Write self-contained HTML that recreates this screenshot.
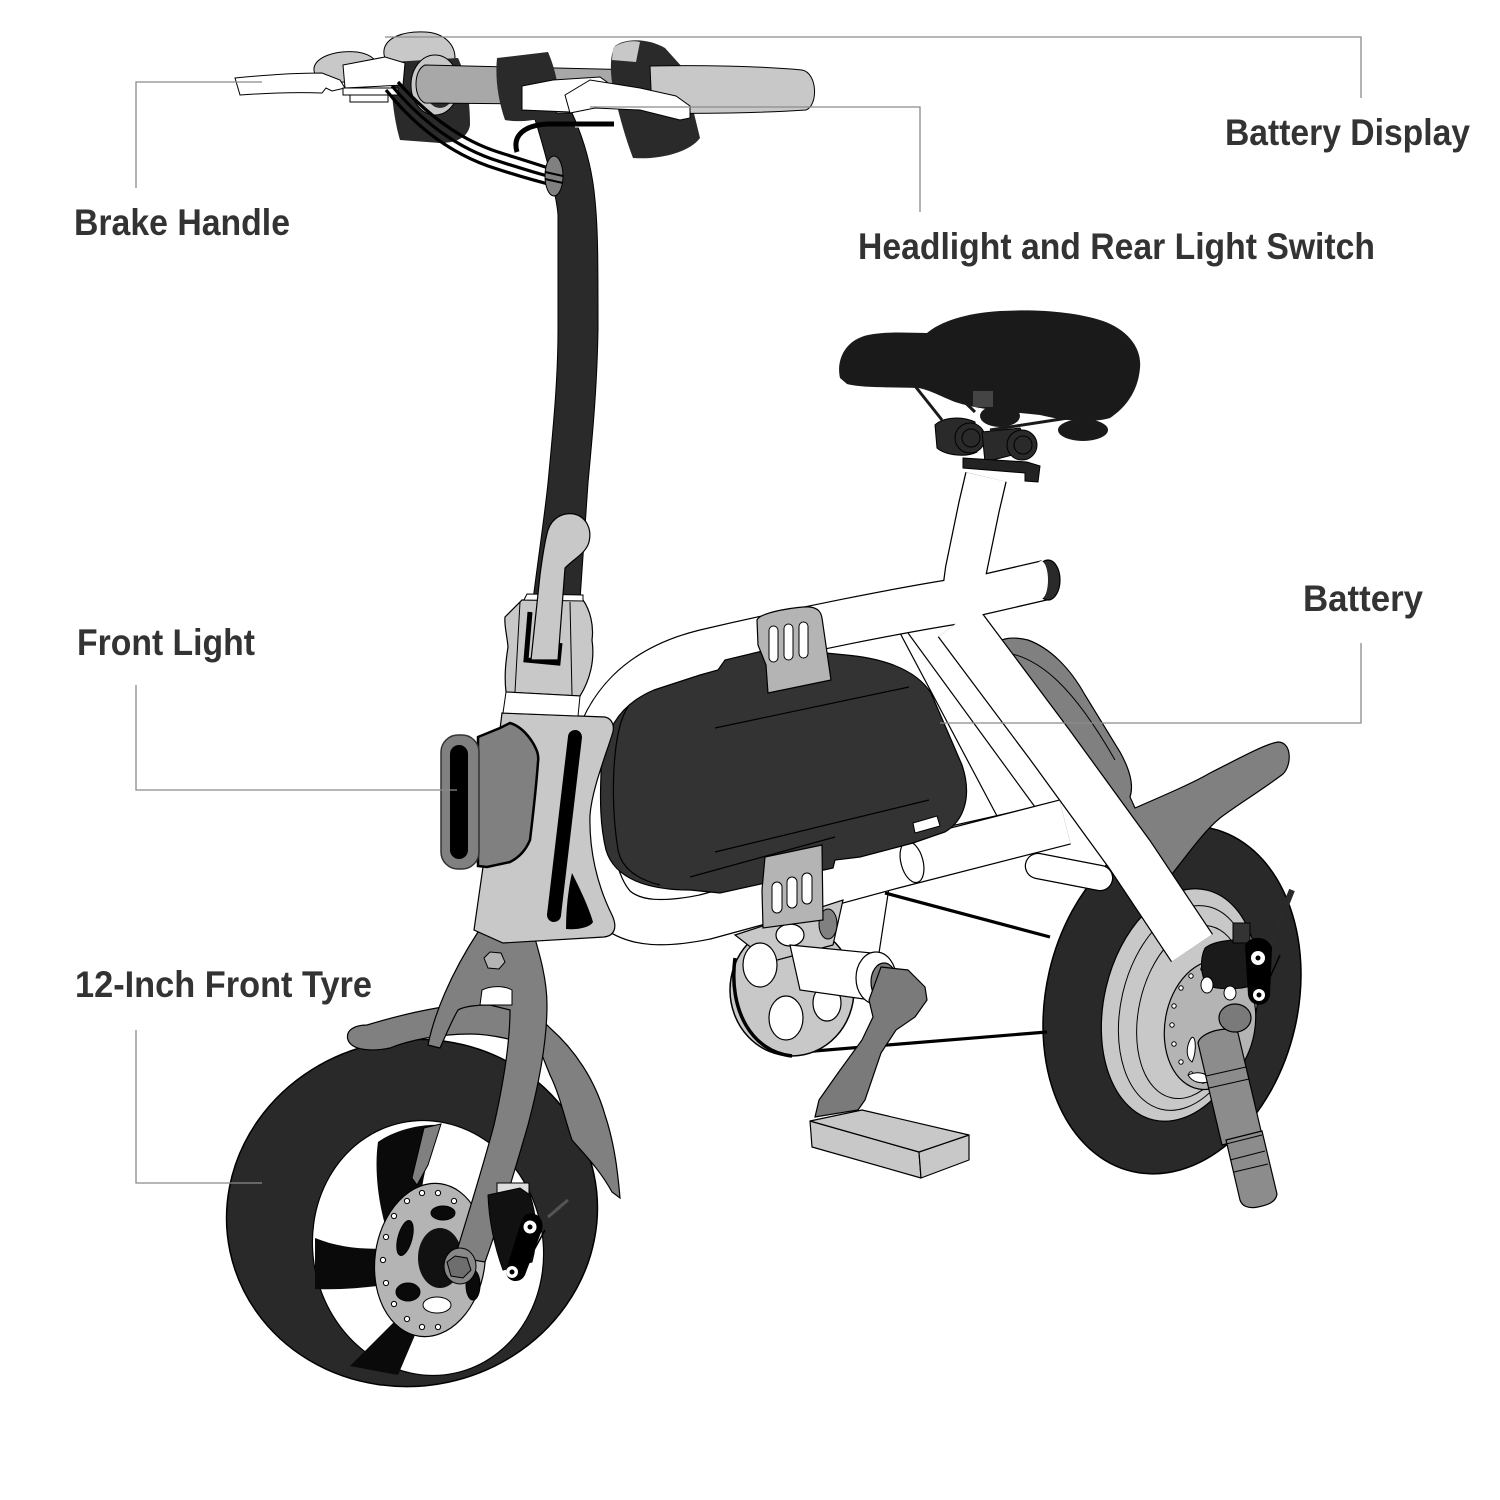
<!DOCTYPE html>
<html>
<head>
<meta charset="utf-8">
<style>
html,body{margin:0;padding:0;background:#fff;}
svg{display:block;}
text{font-family:"Liberation Sans",Arial,sans-serif;font-weight:bold;fill:#333;font-size:37px;}
</style>
</head>
<body>
<svg width="1500" height="1500" viewBox="0 0 1500 1500" xmlns="http://www.w3.org/2000/svg">
<rect width="1500" height="1500" fill="#fff"/>

<!-- ============ REAR WHEEL ============ -->
<ellipse cx="1172" cy="1000" rx="126" ry="176" transform="rotate(13 1172 1000)" fill="#292929" stroke="#000" stroke-width="1.5"/>
<ellipse cx="1180" cy="1005" rx="76" ry="118" transform="rotate(13 1180 1005)" fill="#c8c8c8" stroke="#000" stroke-width="1.2"/>
<ellipse cx="1185" cy="1008" rx="64" ry="104" transform="rotate(13 1185 1008)" fill="none" stroke="#000" stroke-width="1"/>
<ellipse cx="1191" cy="1012" rx="52" ry="88" transform="rotate(13 1191 1012)" fill="none" stroke="#000" stroke-width="1"/>
<!-- rear disc -->
<ellipse cx="1210" cy="1025" rx="45" ry="65" transform="rotate(10 1210 1025)" fill="#b4b4b4" stroke="#000" stroke-width="1.2"/>
<g fill="#fff" stroke="#000" stroke-width="1">
<circle cx="1203" cy="1081" r="2.2"/><circle cx="1191" cy="1074" r="2.2"/><circle cx="1181" cy="1062" r="2.2"/>
<circle cx="1174" cy="1044" r="2.2"/><circle cx="1172" cy="1025" r="2.2"/><circle cx="1174" cy="1006" r="2.2"/>
<circle cx="1181" cy="988" r="2.2"/><circle cx="1191" cy="976" r="2.2"/><circle cx="1203" cy="969" r="2.2"/>
<circle cx="1217" cy="1081" r="2.2"/><circle cx="1229" cy="1074" r="2.2"/>
</g>
<path d="M1190,1040 C1195,1030 1198,1050 1192,1062 C1186,1058 1186,1048 1190,1040 Z" fill="#fff" stroke="#000" stroke-width="1"/>
<path d="M1188,1075 C1200,1070 1210,1074 1208,1082 C1200,1084 1192,1082 1188,1075 Z" fill="#fff" stroke="#000" stroke-width="1"/>

<!-- rear fender -->
<path d="M990,648 C998,638 1012,636 1028,640 C1050,648 1070,668 1085,695 L1120,752 C1130,770 1134,785 1130,797 L1135,808 C1165,795 1195,782 1210,773 C1240,758 1265,744 1278,742 C1292,742 1292,765 1283,774 C1262,790 1237,805 1220,818 C1203,832 1185,858 1172,874 L1158,880 L1110,830 L1060,760 Z" fill="#808080" stroke="#000" stroke-width="1.2"/>
<path d="M1000,652 C1040,655 1075,690 1115,760" fill="none" stroke="#000" stroke-width="1"/>

<!-- compartment lines behind battery -->
<g fill="none" stroke="#000" stroke-width="1.2">
<path d="M820,646 L900,633 L997,816"/>
<path d="M908,633 L1035,807"/>
<path d="M920,833 L1035,807"/>
<path d="M892,868 L879,953"/>
</g>

<!-- frame tubes: outline pass -->
<g fill="none" stroke="#000" stroke-linejoin="round">
<path d="M965,600 C900,610 800,630 705,652 C640,668 605,705 593,760 C583,815 588,880 615,908 C635,925 665,925 705,917 L893,866 L1065,822" stroke-width="46.5"/>
<path d="M986,477 L979,507 L966,570 L960,615" stroke-width="42.5"/>
<path d="M968,598 L1046,580" stroke-width="40.5"/>
<path d="M958,622 L1050,745 L1130,855 L1192,948" stroke-width="50.5"/>
<path d="M1038,866 L1100,878" stroke-width="26.5" stroke-linecap="round"/>
</g>
<!-- frame tubes: white pass -->
<g fill="none" stroke="#fff" stroke-linejoin="round">
<path d="M965,600 C900,610 800,630 705,652 C640,668 605,705 593,760 C583,815 588,880 615,908 C635,925 665,925 705,917 L893,866 L1065,822" stroke-width="44"/>
<path d="M986,477 L979,507 L966,570 L960,615" stroke-width="40"/>
<path d="M968,598 L1046,580" stroke-width="38"/>
<path d="M958,622 L1050,745 L1130,855 L1192,948" stroke-width="48"/>
<path d="M1038,866 L1100,878" stroke-width="24" stroke-linecap="round"/>
</g>
<!-- rear cap -->
<ellipse cx="1048" cy="580" rx="12" ry="20" fill="#2a2a2a" stroke="#000" stroke-width="1.2"/>
<ellipse cx="1041" cy="580" rx="7" ry="19" fill="#fff"/>
<!-- joint on lower tube -->
<ellipse cx="912" cy="862" rx="11" ry="21" transform="rotate(-15 912 862)" fill="#fff" stroke="#000" stroke-width="1.2"/>

<!-- chain -->
<path d="M885,893 L1050,937" stroke="#000" stroke-width="3.2" fill="none"/>
<path d="M790,1053 L1047,1032" stroke="#000" stroke-width="3.2" fill="none"/>

<!-- chainwheel -->
<ellipse cx="792" cy="990" rx="62" ry="66" fill="#c8c8c8" stroke="#000" stroke-width="1.5"/>
<path d="M735,958 C728,1010 752,1052 792,1056" fill="none" stroke="#000" stroke-width="3.5"/>
<polygon points="735,935 843,900 833,945 770,962" fill="#c8c8c8" stroke="#000" stroke-width="1.2"/>
<ellipse cx="828" cy="924" rx="9" ry="15" fill="#808080" stroke="#000" stroke-width="1"/>
<g fill="#fff" stroke="#000" stroke-width="1.2">
<ellipse cx="760" cy="965" rx="17" ry="22"/>
<ellipse cx="786" cy="1018" rx="17" ry="22"/>
<ellipse cx="827" cy="1003" rx="14" ry="18"/>
<ellipse cx="790" cy="935" rx="14" ry="11"/>
</g>
<!-- BB -->
<path d="M790,945 L872,953 L885,1002 L800,990 Z" fill="#fff" stroke="#000" stroke-width="1.2"/>
<ellipse cx="876" cy="978" rx="20" ry="26" fill="#fff" stroke="#000" stroke-width="1.2"/>
<ellipse cx="884" cy="982" rx="13" ry="19" fill="#7a7a7a" stroke="#000" stroke-width="1.2"/>
<!-- crank -->
<polygon points="881,967 908,970 925,987 927,1000 915,1017 896,1030 881,1053 865,1100 858,1110 815,1117 819,1100 838,1073 862,1040 873,1017 869,1000" fill="#7a7a7a" stroke="#000" stroke-width="1.2"/>
<!-- pedal -->
<g fill="#c8c8c8" stroke="#000" stroke-width="1.2" stroke-linejoin="round">
<polygon points="810,1121 919,1152 921,1178 812,1147"/>
<polygon points="919,1152 969,1135 969,1160 921,1178"/>
<polygon points="810,1121 862,1110 969,1135 919,1152"/>
</g>

<!-- battery -->
<path d="M601,775 C601,735 618,705 654,690 L700,675 L718,670 L725,660 L775,648 L846,655 C880,658 915,668 931,693 L962,765 C972,795 965,820 945,832 L913,843 L860,857 L835,860 L833,868 L720,893 L690,890 C650,890 615,880 606,850 C600,825 600,800 601,775 Z" fill="#333" stroke="#000" stroke-width="1.2"/>
<g fill="none" stroke="#000" stroke-width="1.2">
<path d="M715,728 L909,687"/>
<path d="M715,852 L929,800"/>
<path d="M690,877 L835,837"/>
<path d="M628,707 C612,730 610,800 618,850 C622,870 640,880 660,885"/>
</g>
<!-- straps -->
<path d="M757,620 C760,612 800,606 810,607 C818,608 821,612 822,618 L831,680 L768,693 L766,665 L758,645 Z" fill="#b4b4b4" stroke="#000" stroke-width="1.2"/>
<g fill="#fff" stroke="#000" stroke-width="1">
<rect x="769" y="626" width="9" height="36" rx="4.5"/>
<rect x="784" y="624" width="9" height="36" rx="4.5"/>
<rect x="799" y="622" width="9" height="36" rx="4.5"/>
</g>
<path d="M765,857 L822,845 L823,920 L763,928 L762,890 Z" fill="#b4b4b4" stroke="#000" stroke-width="1.2"/>
<g fill="#fff" stroke="#000" stroke-width="1">
<rect x="772" y="882" width="10" height="31" rx="5"/>
<rect x="787" y="877" width="10" height="31" rx="5"/>
<rect x="802" y="873" width="10" height="31" rx="5"/>
</g>
<!-- small connector on battery -->
<path d="M913,823 L937,816 L940,826 L915,833 Z" fill="#fff" stroke="#000" stroke-width="1"/>

<!-- rear caliper -->
<path d="M1205,948 C1215,940 1240,938 1252,942 L1255,985 C1240,990 1215,990 1207,985 C1200,975 1200,958 1205,948 Z" fill="#1a1a1a" stroke="#000"/>
<rect x="1233" y="923" width="17" height="20" fill="#333" stroke="#000"/>
<path d="M1268,950 L1292,890" stroke="#2a2a2a" stroke-width="6" fill="none"/>
<path d="M1262,995 L1280,955" stroke="#000" stroke-width="1.5" fill="none"/>
<path d="M1245,945 C1250,935 1268,935 1272,948 L1270,995 C1268,1008 1250,1008 1248,995 Z" fill="#000"/>
<circle cx="1258" cy="958" r="7" fill="#fff"/><circle cx="1258" cy="958" r="2.5" fill="#000"/>
<circle cx="1259" cy="995" r="6" fill="#fff"/><circle cx="1259" cy="995" r="2.5" fill="#000"/>
<ellipse cx="1207" cy="985" rx="6" ry="8" fill="#fff" stroke="#000"/>
<ellipse cx="1230" cy="993" rx="6" ry="7" fill="#fff" stroke="#000"/>
<!-- kickstand -->
<path d="M1198,1043 C1200,1032 1230,1024 1238,1033 L1262,1135 L1222,1145 Z" fill="#8c8c8c" stroke="#000" stroke-width="1.2"/>
<path d="M1226,1140 L1262,1131 L1277,1194 C1276,1202 1268,1205 1258,1207 C1248,1209 1242,1206 1240,1200 Z" fill="#8c8c8c" stroke="#000" stroke-width="1.2"/>
<g fill="none" stroke="#000" stroke-width="1">
<path d="M1206,1076 L1246,1067"/><path d="M1209,1088 L1249,1079"/>
<path d="M1222,1145 L1262,1135"/><path d="M1230,1160 L1265,1151"/><path d="M1234,1172 L1268,1164"/>
</g>
<ellipse cx="1235" cy="1018" rx="16" ry="14" fill="#7a7a7a" stroke="#000" stroke-width="1.2"/>

<!-- seat clamp -->
<path d="M935,425 C942,418 960,415 975,422 L977,452 C965,458 945,455 937,448 Z" fill="#2a2a2a" stroke="#000"/>
<circle cx="970" cy="438" r="15" fill="#2a2a2a" stroke="#000"/>
<circle cx="971" cy="438" r="9" fill="none" stroke="#000"/>
<path d="M982,432 L1020,428 L1032,450 L985,462 Z" fill="#2a2a2a" stroke="#000"/>
<circle cx="1022" cy="445" r="15" fill="#2a2a2a" stroke="#000"/>
<circle cx="1023" cy="445" r="9" fill="none" stroke="#000"/>
<polygon points="963,458 1027,462 1040,466 1038,482 1025,481 1025,473 963,468" fill="#222" stroke="#000"/>
<!-- saddle rails -->
<g stroke="#1a1a1a" stroke-width="3" fill="none">
<path d="M915,386 L942,420"/><path d="M948,386 L975,412"/><path d="M990,430 L1068,418"/>
</g>
<!-- saddle -->
<path d="M840,378 C836,360 845,340 868,335 C890,331 910,333 927,333 C940,322 965,313 1000,311 C1040,309 1075,312 1103,321 C1128,330 1142,348 1140,368 C1138,392 1125,408 1110,418 C1090,424 1060,420 1040,415 C1010,412 980,410 955,402 C940,396 930,390 918,388 C890,387 862,388 847,384 Z" fill="#1a1a1a"/>
<ellipse cx="1083" cy="430" rx="25" ry="11" fill="#1a1a1a"/>
<ellipse cx="1000" cy="416" rx="20" ry="11" fill="#1a1a1a"/>
<rect x="973" y="391" width="20" height="16" fill="#444"/>

<!-- ============ FRONT WHEEL ============ -->
<ellipse cx="412" cy="1213" rx="186" ry="173" transform="rotate(-12 412 1213)" fill="#292929" stroke="#000" stroke-width="1.5"/>
<ellipse cx="428" cy="1248" rx="115" ry="128" transform="rotate(-12 428 1248)" fill="#fff" stroke="#000" stroke-width="1.2"/>
<!-- spokes -->
<path d="M378,1142 C395,1130 420,1124 440,1125 L432,1150 C420,1180 418,1210 425,1240 L392,1246 C378,1210 374,1170 378,1142 Z" fill="#0a0a0a"/>
<path d="M315,1238 C340,1248 365,1250 392,1248 L392,1284 C365,1288 340,1290 315,1289 Z" fill="#0a0a0a"/>
<path d="M350,1366 L400,1316 L418,1328 L398,1375 Z" fill="#0a0a0a"/>
<polygon points="424,1128 441,1124 428,1165 417,1185 412,1178" fill="#808080" stroke="#000" stroke-width="1"/>
<!-- disc -->
<ellipse cx="430" cy="1260" rx="55" ry="77" transform="rotate(8 430 1260)" fill="#b4b4b4" stroke="#000" stroke-width="1.2"/>
<g fill="#fff" stroke="#000" stroke-width="1">
<circle cx="422" cy="1327" r="2.6"/><circle cx="407" cy="1319" r="2.6"/><circle cx="394" cy="1304" r="2.6"/>
<circle cx="386" cy="1283" r="2.6"/><circle cx="383" cy="1260" r="2.6"/><circle cx="386" cy="1237" r="2.6"/>
<circle cx="394" cy="1216" r="2.6"/><circle cx="407" cy="1201" r="2.6"/><circle cx="422" cy="1193" r="2.6"/>
<circle cx="438" cy="1193" r="2.6"/><circle cx="454" cy="1201" r="2.6"/><circle cx="438" cy="1327" r="2.6"/>
</g>
<g fill="#0a0a0a" stroke="#000">
<ellipse cx="405" cy="1238" rx="7" ry="18" transform="rotate(15 405 1238)"/>
<ellipse cx="408" cy="1292" rx="12" ry="9"/>
<ellipse cx="443" cy="1213" rx="12" ry="7"/>
<ellipse cx="473" cy="1285" rx="7" ry="15"/>
</g>
<ellipse cx="437" cy="1305" rx="14" ry="8" fill="#fff" stroke="#000"/>
<ellipse cx="440" cy="1258" rx="22" ry="30" fill="#111"/>

<!-- front fender -->
<path d="M348,1040 C345,1030 355,1025 367,1025 C400,1015 440,1005 480,1003 C510,1003 535,1012 550,1028 C575,1050 595,1080 605,1115 C615,1145 618,1175 620,1198 L612,1192 C600,1170 585,1155 572,1140 C565,1120 560,1095 550,1075 L540,1050 C520,1040 490,1034 470,1034 C440,1034 410,1040 390,1048 C370,1052 352,1050 348,1040 Z" fill="#808080" stroke="#000" stroke-width="1.2"/>

<!-- fork -->
<path d="M478,932 L533,932 C540,955 547,980 547,1005 C547,1040 540,1080 528,1125 C515,1170 500,1220 485,1262 L455,1257 C468,1215 482,1170 494,1125 C503,1085 510,1045 510,1010 L490,1005 C478,1005 465,1006 458,1010 C452,1020 446,1035 440,1048 L428,1045 C434,1015 450,975 478,932 Z" fill="#808080" stroke="#000" stroke-width="1.2"/>
<path d="M482,990 C492,985 505,986 512,990 L512,1005 L480,1005 Z" fill="#fff" stroke="#000" stroke-width="1"/>
<polygon points="484,958 490,952 501,953 505,962 499,969 488,968" fill="#b4b4b4" stroke="#000" stroke-width="1"/>
<ellipse cx="460" cy="1266" rx="16" ry="18" fill="#888" stroke="#000"/>
<polygon points="447,1262 455,1256 467,1258 471,1270 463,1278 451,1276" fill="#6e6e6e" stroke="#000" stroke-width="1"/>
<!-- front caliper -->
<rect x="497" y="1183" width="32" height="12" fill="#ddd" stroke="#000" stroke-width="1"/>
<path d="M488,1195 L520,1188 L530,1195 C537,1215 538,1240 532,1262 L503,1270 C495,1248 489,1222 488,1195 Z" fill="#111" stroke="#000"/>
<path d="M538,1225 L585,1185" stroke="#2a2a2a" stroke-width="6" fill="none"/>
<path d="M548,1217 L560,1207 M556,1210 L568,1200" stroke="#555" stroke-width="3" fill="none"/>
<path d="M522,1272 L545,1230" stroke="#000" stroke-width="1.5" fill="none"/>
<path d="M525,1215 C535,1210 545,1218 542,1230 L525,1275 C520,1285 505,1282 506,1270 L520,1225 Z" fill="#000"/>
<circle cx="530" cy="1227" r="6.5" fill="#fff"/><circle cx="530" cy="1227" r="2.5" fill="#000"/>
<circle cx="512" cy="1272" r="6" fill="#fff"/><circle cx="512" cy="1272" r="2.5" fill="#000"/>

<!-- head tube block -->
<path d="M502,713 L605,717 C613,719 615,727 612,735 C604,760 592,790 590,815 C589,850 597,885 612,915 C618,928 614,936 604,937 L503,943 L474,930 L483,867 Z" fill="#c8c8c8" stroke="#000" stroke-width="1.2"/>
<path d="M575,737 L554,915" stroke="#000" stroke-width="14" stroke-linecap="round" fill="none"/>
<path d="M572,873 C578,885 588,905 593,922 C590,928 575,930 566,929 C566,910 568,890 572,873 Z" fill="#000"/>

<!-- front light -->
<path d="M478,737 L500,728 L510,723 C520,726 528,735 533,743 C537,750 539,755 538,762 C536,790 533,815 530,840 C525,852 518,858 510,862 L487,867 L478,866 Z" fill="#808080" stroke="#000" stroke-width="2.5"/>
<rect x="441" y="735" width="38" height="134" rx="17" fill="#808080" stroke="#333" stroke-width="1.5"/>
<rect x="450" y="745" width="18" height="114" rx="9" fill="#000"/>

<!-- stem -->
<path d="M533,113 L572,113 C582,135 592,165 595,200 C598,230 598,260 598,330 C597,390 592,440 588,483 L580,600 L533,600 C538,560 544,520 548,483 C553,430 558,380 558,330 L558,215 C557,200 548,160 533,113 Z" fill="#2a2a2a" stroke="#000"/>
<!-- folding joint -->
<path d="M522,600 L583,600 C590,610 594,625 592,640 C595,660 590,680 580,696 L506,692 C504,675 506,660 508,647 C507,635 504,625 505,617 Z" fill="#c8c8c8" stroke="#000" stroke-width="1.2"/>
<path d="M520,602 L515,692 M570,602 L572,695" stroke="#000" stroke-width="1" fill="none"/>
<path d="M524,600 L527,594 L583,595 L583,601 Z" fill="#fff" stroke="#000" stroke-width="1"/>
<path d="M506,692 L580,696 L578,716 L503,713 Z" fill="#fff" stroke="#000" stroke-width="1"/>
<path d="M530,612 L526,660 L558,663 L560,643" stroke="#000" stroke-width="5" fill="none"/>
<path d="M531,660 L540,575 C542,560 545,540 548,530 C552,518 563,512 574,514 C587,517 592,530 589,542 C586,553 575,558 565,568 L558,660 Z" fill="#c8c8c8" stroke="#000" stroke-width="1.2"/>

<!-- handlebar -->
<path d="M384,50 C386,38 402,31 425,32 C445,33 455,45 455,58 L452,68 L395,70 C388,66 383,58 384,50 Z" fill="#c8c8c8" stroke="#000"/>
<path d="M392,62 L458,58 C466,75 470,100 470,125 C468,138 455,143 440,143 L400,140 C394,120 390,90 392,62 Z" fill="#2a2a2a"/>
<ellipse cx="435" cy="85" rx="24" ry="30" fill="#c8c8c8" stroke="#000"/>
<ellipse cx="440" cy="88" rx="15" ry="20" fill="#2a2a2a"/>
<path d="M425,65 L640,70 L640,105 L425,103 C413,98 413,70 425,65 Z" fill="#a8a8a8" stroke="#000"/>
<path d="M497,58 L548,52 C555,68 560,90 560,110 C550,120 520,123 505,120 C498,100 495,78 497,58 Z" fill="#2a2a2a"/>
<path d="M615,46 C625,38 648,38 665,48 L683,68 L700,138 C690,152 660,160 633,158 C626,140 620,118 615,98 C610,78 609,56 615,46 Z" fill="#2a2a2a"/>
<path d="M613,48 C620,42 632,40 640,42 L636,62 L612,60 Z" fill="#c8c8c8"/>
<path d="M650,66 C700,65 760,66 802,70 C818,73 818,106 806,110 C760,113 700,114 652,113 Z" fill="#c8c8c8" stroke="#000"/>
<!-- cable loop and right cable -->
<path d="M517,152 C512,135 525,125 548,124 L614,124" fill="none" stroke="#000" stroke-width="5"/>
<path d="M575,127 L614,127" fill="none" stroke="#fff" stroke-width="1"/>
<!-- right lever -->
<path d="M522,86 L553,80 L600,77 L607,82 L605,100 L585,106 L570,112 L522,110 Z" fill="#fff" stroke="#000"/>
<path d="M565,95 L590,80 L640,88 L676,96 L690,106 L690,118 L680,120 L640,110 L595,108 L570,113 Z" fill="#fff" stroke="#000"/>
<!-- left lever -->
<path d="M314,68 C316,57 335,50 357,52 C372,54 380,62 378,72 L372,80 L330,83 C320,81 313,75 314,68 Z" fill="#c8c8c8" stroke="#000"/>
<path d="M235,78 C265,75 295,73 322,73 L340,80 L345,88 L332,91 L326,88 L322,93 C295,92 268,93 240,95 Z" fill="#fff" stroke="#000"/>
<path d="M343,65 L385,57 L405,63 L403,85 L345,88 Z" fill="#fff" stroke="#000"/>
<rect x="343" y="88" width="55" height="7" fill="#fff" stroke="#000" stroke-width="1"/>
<rect x="350" y="95" width="38" height="7" fill="#fff" stroke="#000" stroke-width="1"/>
<!-- cables -->
<g fill="none" stroke="#000" stroke-width="3.2">
<path d="M386,90 C418,130 452,153 488,166 C512,174 532,180 556,186"/>
<path d="M392,86 C424,124 458,147 492,159 C516,167 536,173 558,179"/>
<path d="M398,82 C430,118 464,141 498,152 C520,159 540,165 560,172"/>
</g>
<!-- clip on stem -->
<ellipse cx="554" cy="176" rx="9" ry="20" fill="#808080" stroke="#000"/>
<path d="M545,172 L563,176 M545,179 L563,183" stroke="#000" stroke-width="2" fill="none"/>

<!-- ============ LEADER LINES ============ -->
<g fill="none" stroke="#8a8a8a" stroke-width="1.3">
<path d="M385,37 H1361 V98"/>
<path d="M590,107 H920 V212"/>
<path d="M262,82 H136 V188"/>
<path d="M136,685 V790 H457"/>
<path d="M136,1030 V1183 H262"/>
<path d="M1361,643 V723 H940"/>
</g>

<!-- ============ LABELS ============ -->
<text x="1225" y="145" textLength="245" lengthAdjust="spacingAndGlyphs">Battery Display</text>
<text x="858" y="259" textLength="517" lengthAdjust="spacingAndGlyphs">Headlight and Rear Light Switch</text>
<text x="74" y="235" textLength="216" lengthAdjust="spacingAndGlyphs">Brake Handle</text>
<text x="77" y="655" textLength="178" lengthAdjust="spacingAndGlyphs">Front Light</text>
<text x="75" y="997" textLength="297" lengthAdjust="spacingAndGlyphs">12-Inch Front Tyre</text>
<text x="1303" y="611" textLength="120" lengthAdjust="spacingAndGlyphs">Battery</text>
</svg>
</body>
</html>
